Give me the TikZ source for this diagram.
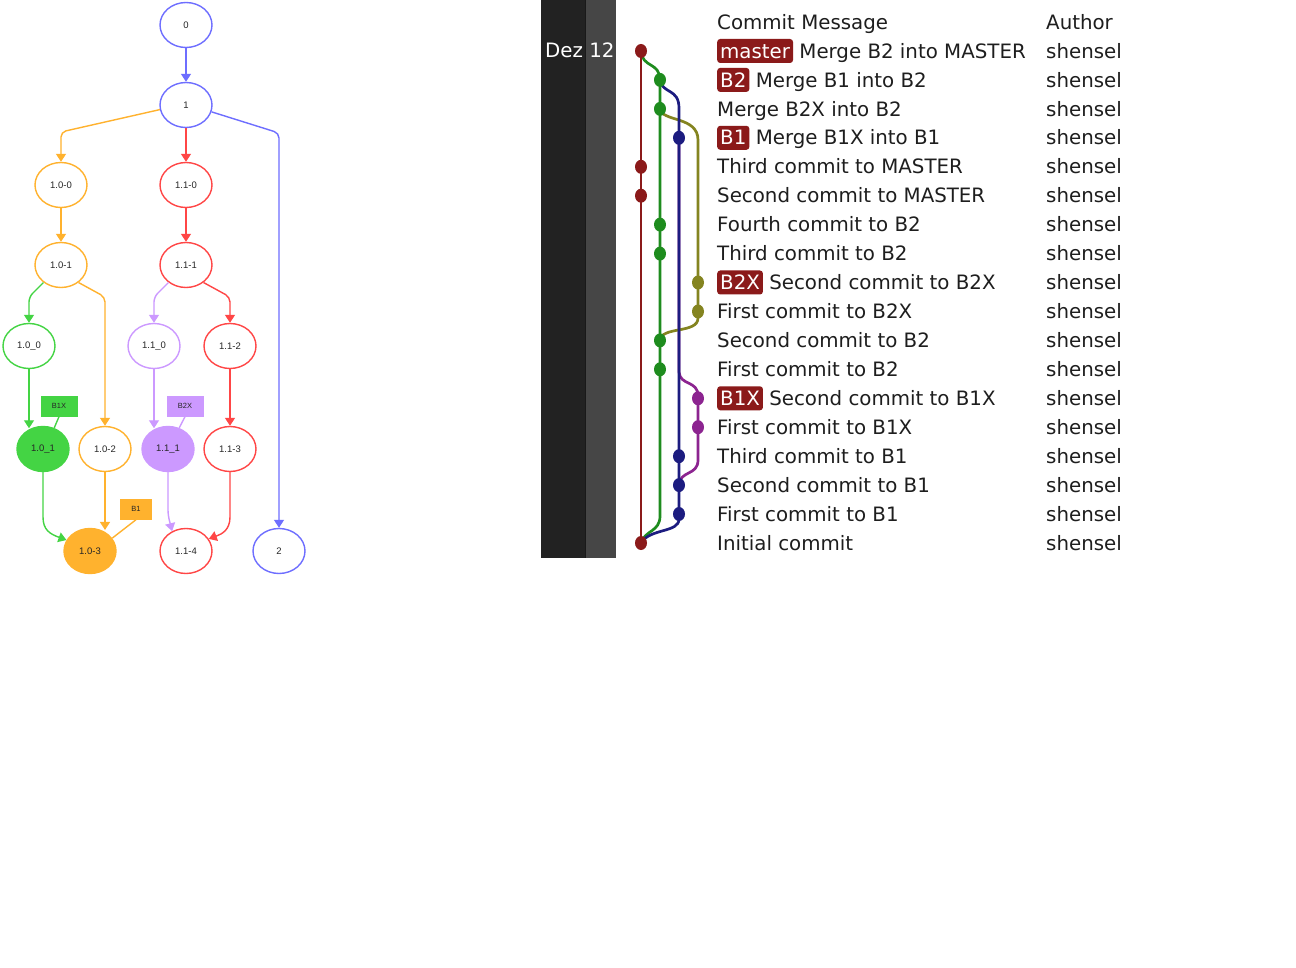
\documentclass[tikz,border=0pt]{standalone}
\usepackage{fontspec}
\setmainfont{DejaVu Sans}
\newfontfamily\gvfont{Liberation Sans}
\usetikzlibrary{arrows.meta,shapes.geometric}
\pgfdeclarelayer{paper}
\pgfdeclarelayer{bg}
\pgfsetlayers{paper,bg,main}
\definecolor{gvblue}{HTML}{6E6EFF}
\definecolor{gvorange}{HTML}{FFB22E}
\definecolor{gvred}{HTML}{FF4646}
\definecolor{gvgreen}{HTML}{44D444}
\definecolor{gvpurple}{HTML}{CC99FF}
\definecolor{gkred}{HTML}{8B1A1A}
\definecolor{gkgreen}{HTML}{1E8C1E}
\definecolor{gknavy}{HTML}{1C1C80}
\definecolor{gkolive}{HTML}{848420}
\definecolor{gkpurple}{HTML}{8C2490}
\definecolor{panelA}{HTML}{222222}
\definecolor{panelB}{HTML}{464646}
\definecolor{txtc}{HTML}{1E1E1E}
\begin{document}
\begin{tikzpicture}[x=1pt,y=-1pt,
  gvnode/.style={ellipse, draw=#1, line width=1.4pt, minimum width=52pt, minimum height=45pt,
    inner sep=0pt, font=\gvfont\fontsize{9.5}{10}\selectfont, text=black!85},
  gvfilled/.style={gvnode=#1, fill=#1},
  gvtag/.style={rectangle, fill=#1, minimum height=21pt, inner sep=0pt,
    font=\gvfont\fontsize{7.5}{8}\selectfont, text=black!85},
  gvedge/.style={line width=1.4pt, -{Triangle[width=10pt,length=8pt]}, rounded corners=5pt},
  gvline/.style={line width=1.4pt},
  gkdot/.style={ellipse, minimum width=12pt, minimum height=14pt, inner sep=0pt},
  gkline/.style={line width=2.7pt},
  txt/.style={anchor=west, inner sep=0pt, text height=14.4pt, text depth=0pt,
    font=\fontsize{19.8}{20}\selectfont, text=txtc},
  gktag/.style={anchor=west, fill=gkred, text=white, rounded corners=3pt, inner xsep=3pt,
    inner ysep=0pt, minimum height=24pt, text height=14.4pt, text depth=0pt,
    font=\fontsize{19.8}{20}\selectfont}
]
\begin{pgfonlayer}{paper}
\fill[white] (0,0) rectangle (1296,968);
\end{pgfonlayer}
\useasboundingbox (0,0) rectangle (1296,968);

% ---------------- left graph ----------------
\node[gvnode=gvblue] (n0) at (186,25) {0};
\node[gvnode=gvblue] (n1) at (186,105) {1};
\node[gvnode=gvorange] (a0) at (61,185) {1.0-0};
\node[gvnode=gvred] (b0) at (186,185) {1.1-0};
\node[gvnode=gvorange] (a1) at (61,265) {1.0-1};
\node[gvnode=gvred] (b1) at (186,265) {1.1-1};
\node[gvnode=gvgreen] (g0) at (29,346) {1.0\_0};
\node[gvnode=gvpurple] (p0) at (154,346) {1.1\_0};
\node[gvnode=gvred] (b2) at (230,346) {1.1-2};
\node[gvfilled=gvgreen] (g1) at (43,449) {1.0\_1};
\node[gvnode=gvorange] (a2) at (105,449) {1.0-2};
\node[gvfilled=gvpurple] (p1) at (168,449) {1.1\_1};
\node[gvnode=gvred] (b3) at (230,449) {1.1-3};
\node[gvfilled=gvorange] (a3) at (90,551) {1.0-3};
\node[gvnode=gvred] (b4) at (186,551) {1.1-4};
\node[gvnode=gvblue] (n2) at (279,551) {2};
\node[gvtag=gvgreen, minimum width=37pt] (t1) at (59,406) {B1X};
\node[gvtag=gvpurple, minimum width=37pt] (t2) at (185,406) {B2X};
\node[gvtag=gvorange, minimum width=32pt] (t3) at (136,509) {B1};

\draw[gvedge, gvblue] (n0) -- (n1);
\draw[gvedge, gvorange] (n1.190) -- (61,132) -- (a0);
\draw[gvedge, gvred] (n1) -- (b0);
\draw[gvedge, gvblue] (n1.-15) -- (279,133) -- (n2);
\draw[gvedge, gvorange] (a0) -- (a1);
\draw[gvedge, gvred] (b0) -- (b1);
\draw[gvedge, gvgreen] (a1.225) -- (29,297) -- (g0);
\draw[gvedge, gvorange] (a1.-45) -- (105,297) -- (a2);
\draw[gvedge, gvpurple] (b1.225) -- (154,297) -- (p0);
\draw[gvedge, gvred] (b1.-45) -- (230,297) -- (b2);
\draw[gvedge, gvgreen] (g0.south) -- (g0.south |- g1.120);
\draw[gvline, gvgreen] (t1.south) -- (g1.62);
\draw[gvedge, gvpurple] (p0.south) -- (p0.south |- p1.120);
\draw[gvline, gvpurple] (t2.south) -- (p1.62);
\draw[gvedge, gvred] (b2) -- (b3);
\draw[gvedge, gvgreen] (g1.south) -- (43,512) .. controls (43,530) and (50,534) .. (a3.155);
\draw[gvedge, gvorange] (a2.south) -- (a2.south |- a3.62);
\draw[gvline, gvorange] (t3.south) -- (a3.30);
\draw[gvedge, gvpurple] (p1.south) -- (168,515) -- (b4.125);
\draw[gvedge, gvred] (b3.south) -- (230,512) .. controls (230,530) and (222,534) .. (b4.28);

% ---------------- right panel ----------------
\fill[panelA] (541,0) rectangle (586,558);
\fill[panelB] (586,0) rectangle (616,558);
\draw[black!90, line width=1pt] (585.5,0) -- (585.5,558);
\node[txt, text=white] (date) at (545,50) {Dez 12};

\node[gkdot, fill=gkred] (r1) at (641,51) {};
\node[gkdot, fill=gkgreen] (g2) at (660,79.9) {};
\node[gkdot, fill=gkgreen] (g3) at (660,108.9) {};
\node[gkdot, fill=gknavy] (k4) at (679,137.8) {};
\node[gkdot, fill=gkred] (r5) at (641,166.8) {};
\node[gkdot, fill=gkred] (r6) at (641,195.7) {};
\node[gkdot, fill=gkgreen] (g7) at (660,224.6) {};
\node[gkdot, fill=gkgreen] (g8) at (660,253.6) {};
\node[gkdot, fill=gkolive] (o9) at (698,282.5) {};
\node[gkdot, fill=gkolive] (o10) at (698,311.5) {};
\node[gkdot, fill=gkgreen] (g11) at (660,340.4) {};
\node[gkdot, fill=gkgreen] (g12) at (660,369.3) {};
\node[gkdot, fill=gkpurple] (p13) at (698,398.3) {};
\node[gkdot, fill=gkpurple] (p14) at (698,427.2) {};
\node[gkdot, fill=gknavy] (k15) at (679,456.2) {};
\node[gkdot, fill=gknavy] (k16) at (679,485.1) {};
\node[gkdot, fill=gknavy] (k17) at (679,514) {};
\node[gkdot, fill=gkred] (r18) at (641,543) {};

\begin{pgfonlayer}{bg}
\draw[gkline, gkpurple] (k4.center) -- (679,372) .. controls (680,386) and (698,380) .. (698,396) -- (p14.center) -- (698,460) .. controls (698,476) and (680,470) .. (k16.center);
\draw[gkline, gkolive] (g3.center) .. controls (662,122) and (698,116) .. (698,140) -- (o10.center) -- (698,318) .. controls (698,334) and (661,326) .. (g11.center);
\draw[gkline, gkgreen] (r1.center) .. controls (642,68) and (660,62) .. (g2.center) -- (660,516) .. controls (660,532) and (645,530) .. (r18.center);
\draw[gkline, gknavy] (g2.center) .. controls (662,94) and (679,88) .. (679,108) -- (k17.center) -- (679,519) .. controls (679,533) and (650,528) .. (r18.center);
\draw[gkline, gkred] (r1.center) -- (r18.center);
\end{pgfonlayer}

% header
\node[txt] (hm) at (717,22) {Commit Message};
\node[txt] (ha) at (1046,22) {Author};

% rows
\node[gktag] (l1) at (717,51) {master};
\node[txt] (m1) at ([xshift=6pt]l1.east) {Merge B2 into MASTER};
\node[gktag] (l2) at (717,79.9) {B2};
\node[txt] (m2) at ([xshift=6pt]l2.east) {Merge B1 into B2};
\node[txt] (m3) at (717,108.9) {Merge B2X into B2};
\node[gktag] (l4) at (717,137.8) {B1};
\node[txt] (m4) at ([xshift=6pt]l4.east) {Merge B1X into B1};
\node[txt] (m5) at (717,166.8) {Third commit to MASTER};
\node[txt] (m6) at (717,195.7) {Second commit to MASTER};
\node[txt] (m7) at (717,224.6) {Fourth commit to B2};
\node[txt] (m8) at (717,253.6) {Third commit to B2};
\node[gktag] (l9) at (717,282.5) {B2X};
\node[txt] (m9) at ([xshift=6pt]l9.east) {Second commit to B2X};
\node[txt] (m10) at (717,311.5) {First commit to B2X};
\node[txt] (m11) at (717,340.4) {Second commit to B2};
\node[txt] (m12) at (717,369.3) {First commit to B2};
\node[gktag] (l13) at (717,398.3) {B1X};
\node[txt] (m13) at ([xshift=6pt]l13.east) {Second commit to B1X};
\node[txt] (m14) at (717,427.2) {First commit to B1X};
\node[txt] (m15) at (717,456.2) {Third commit to B1};
\node[txt] (m16) at (717,485.1) {Second commit to B1};
\node[txt] (m17) at (717,514) {First commit to B1};
\node[txt] (m18) at (717,543) {Initial commit};

\foreach \yy [count=\i] in {51,79.9,108.9,137.8,166.8,195.7,224.6,253.6,282.5,311.5,340.4,369.3,398.3,427.2,456.2,485.1,514,543}
  \node[txt] (au\i) at (1046,\yy) {shensel};
\end{tikzpicture}
\end{document}
